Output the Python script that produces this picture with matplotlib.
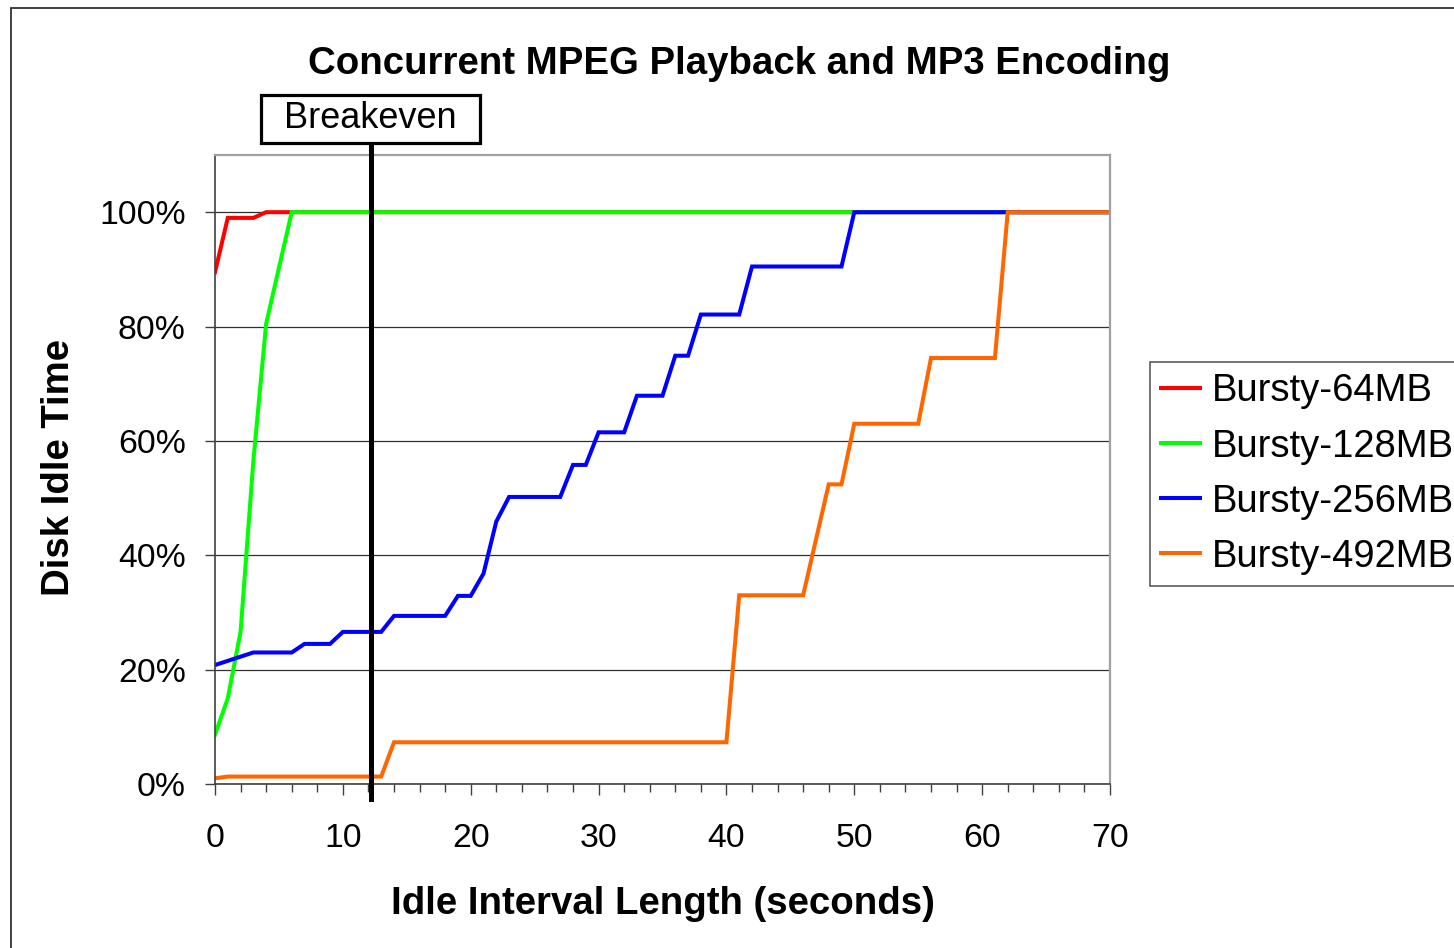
import matplotlib
matplotlib.use("Agg")
import matplotlib.pyplot as plt
from matplotlib.patches import Rectangle
from matplotlib.ticker import MultipleLocator, FuncFormatter

plt.rcParams["font.family"] = ["Liberation Sans", "DejaVu Sans"]

# ---------------------------------------------------------------------------
# Data (idle interval length in s, % idle time)
# ---------------------------------------------------------------------------
labels = ["Bursty-64MB", "Bursty-128MB", "Bursty-256MB", "Bursty-492MB"]
colors = ["#FF0000", "#00FF00", "#0000FF", "#FF6600"]

x_64 = [0, 1, 3, 4, 70]
y_64 = [89.5, 99.0, 99.0, 100, 100]

x_128 = [0, 1, 2, 3, 4, 6, 70]
y_128 = [8.6, 15.0, 26.6, 56.5, 80.5, 100, 100]

x_256 = [0, 3, 6, 7, 9, 10, 13, 14, 18, 19, 20, 21, 22, 23, 27, 28, 29, 30,
         32, 33, 35, 36, 37, 38, 41, 42, 49, 50, 70]
y_256 = [20.8, 23.0, 23.0, 24.5, 24.5, 26.6, 26.6, 29.4, 29.4, 32.9, 32.9,
         36.8, 45.9, 50.2, 50.2, 55.8, 55.8, 61.5, 61.5, 67.9, 67.9, 74.9,
         74.9, 82.1, 82.1, 90.5, 90.5, 100, 100]

x_492 = [0, 1, 13, 14, 40, 41, 46, 48, 49, 50, 55, 56, 61, 62, 70]
y_492 = [1.0, 1.3, 1.3, 7.3, 7.3, 33.0, 33.0, 52.4, 52.4, 63.0, 63.0, 74.5,
         74.5, 100, 100]

breakeven_x = 12.2

# ---------------------------------------------------------------------------
# Figure / axes layout
# ---------------------------------------------------------------------------
W, H = 1454, 948
fig = plt.figure(figsize=(W / 100, H / 100), dpi=100)
ax = fig.add_axes([215 / W, 1 - 784 / H, (1110 - 215) / W, (784 - 155) / H])

# outer chart border (runs off the right and bottom edge)
fig.patches.append(Rectangle((11 / W, -0.05), 1.1, 1.05 - 8 / H,
                             transform=fig.transFigure, fill=False,
                             edgecolor="#333333", linewidth=1.3))

for xs, ys, c, lab in zip([x_64, x_128, x_256, x_492],
                          [y_64, y_128, y_256, y_492], colors, labels):
    ax.plot(xs, ys, color=c, linewidth=2.9, label=lab, solid_joinstyle="miter")

ax.set_xlim(0, 70)
ax.set_ylim(0, 110)
ax.xaxis.set_major_locator(MultipleLocator(10))
ax.xaxis.set_minor_locator(MultipleLocator(2))
ax.set_yticks([0, 20, 40, 60, 80, 100])
ax.yaxis.set_major_formatter(FuncFormatter(lambda v, p: "%d%%" % v))

ax.grid(axis="y", color="#303030", linewidth=0.9)
ax.set_axisbelow(True)

ax.tick_params(axis="x", which="major", direction="out", length=8, width=1,
               labelsize=24.3, pad=20, color="#404040")
ax.tick_params(axis="x", which="minor", direction="out", length=6, width=1,
               color="#404040")
ax.tick_params(axis="y", which="major", direction="out", length=7, width=1,
               labelsize=24.3, pad=14, color="#404040")

ax.spines["left"].set_color("#404040")
ax.spines["bottom"].set_color("#404040")
ax.spines["left"].set_linewidth(1.2)
ax.spines["bottom"].set_linewidth(1.2)
for s in ["top", "right"]:
    ax.spines[s].set_color("#A0A0A0")
    ax.spines[s].set_linewidth(1.6)

# Breakeven marker
ax.plot([breakeven_x, breakeven_x], [-2.7, 112], color="black", linewidth=3.6,
        clip_on=False, zorder=5)
fig.patches.append(Rectangle((261 / W, 1 - 143 / H), (480 - 261) / W,
                             (143 - 95) / H, transform=fig.transFigure,
                             facecolor="white", edgecolor="black",
                             linewidth=2.3))
fig.text(370.5 / W, 1 - 119 / H, "Breakeven", fontsize=26, ha="center",
         va="center")

# Titles
fig.text(739 / W, 1 - 64 / H, "Concurrent MPEG Playback and MP3 Encoding",
         fontsize=27.6, fontweight="bold", ha="center", va="center")
fig.text(663 / W, 1 - 904 / H, "Idle Interval Length (seconds)",
         fontsize=27.6, fontweight="bold", ha="center", va="center")
fig.text(59 / W, 1 - 468 / H, "Disk Idle Time", fontsize=27.6,
         fontweight="bold", ha="center", va="center", rotation=90)

# Legend (runs off the right edge, as in the original chart)
leg = fig.legend(loc="upper left", bbox_to_anchor=(1150 / W, 1 - 362 / H),
                 fontsize=27.5, frameon=True, fancybox=False, shadow=False,
                 handlelength=1.0, handletextpad=0.32, labelspacing=0.5,
                 borderpad=0.3, borderaxespad=0)
leg.get_frame().set_edgecolor("#333333")
leg.get_frame().set_linewidth(1.2)

fig.savefig("out.png", dpi=100)
